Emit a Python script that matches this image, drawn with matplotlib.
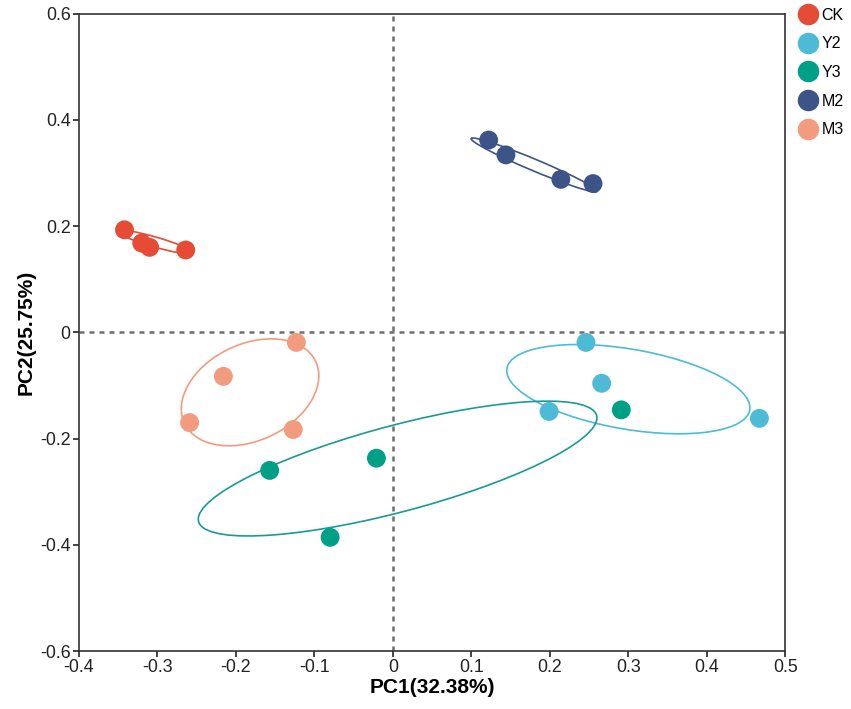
import matplotlib
matplotlib.use("Agg")
import matplotlib.pyplot as plt
from matplotlib.patches import Ellipse
from matplotlib.lines import Line2D

plt.rcParams["font.family"] = ["Liberation Sans", "DejaVu Sans"]

groups = ["CK", "Y2", "Y3", "M2", "M3"]
colors = ["#E64B35", "#4DBBD5", "#00A087", "#3C5488", "#F39B7F"]
ell_colors = ["#E64B35", "#4DBBD5", "#1A9A95", "#3C5488", "#F39B7F"]

# PC1 / PC2 scores per group
pc1_ck = [-0.342, -0.320, -0.310, -0.264]
pc2_ck = [0.193, 0.168, 0.160, 0.155]
pc1_y2 = [0.246, 0.266, 0.199, 0.467]
pc2_y2 = [-0.019, -0.096, -0.149, -0.162]
pc1_y3 = [0.291, -0.021, -0.157, -0.080]
pc2_y3 = [-0.146, -0.237, -0.260, -0.386]
pc1_m2 = [0.122, 0.144, 0.214, 0.255]
pc2_m2 = [0.362, 0.334, 0.288, 0.280]
pc1_m3 = [-0.123, -0.216, -0.259, -0.127]
pc2_m3 = [-0.019, -0.083, -0.170, -0.183]

# confidence ellipses: centre x, centre y, width, height, angle (deg)
ell_cx = [-0.303, 0.300, 0.006, 0.180, -0.182]
ell_cy = [0.170, -0.107, -0.2565, 0.315, -0.113]
ell_w = [0.106, 0.320, 0.546, 0.189, 0.218]
ell_h = [0.018, 0.148, 0.156, 0.020, 0.154]
ell_ang = [-23.4, -16.3, 22.5, -32.0, 57.2]

pc1 = [pc1_ck, pc1_y2, pc1_y3, pc1_m2, pc1_m3]
pc2 = [pc2_ck, pc2_y2, pc2_y3, pc2_m2, pc2_m3]

fig = plt.figure(figsize=(8.51, 7.09), dpi=100)
ax = fig.add_axes([0.0928, 0.0818, 0.830, 0.899])

ax.axvline(0, color="#6E6E6E", ls=(0, (2, 2)), lw=1.8, zorder=1)
ax.axhline(0, color="#6E6E6E", ls=(0, (2, 2)), lw=1.8, zorder=1)

for i in range(len(groups)):
    e = Ellipse((ell_cx[i], ell_cy[i]), ell_w[i], ell_h[i], angle=ell_ang[i],
                fill=False, edgecolor=ell_colors[i], lw=1.2, zorder=2)
    ax.add_patch(e)
for i in range(len(groups)):
    ax.scatter(pc1[i], pc2[i], s=185, color=colors[i], edgecolor="none", zorder=3)

ax.set_xlim(-0.4, 0.5)
ax.set_ylim(-0.6, 0.6)
ax.set_xticks([-0.4, -0.3, -0.2, -0.1, 0, 0.1, 0.2, 0.3, 0.4, 0.5])
ax.set_xticklabels(["-0.4", "-0.3", "-0.2", "-0.1", "0", "0.1", "0.2", "0.3", "0.4", "0.5"])
ax.set_yticks([-0.6, -0.4, -0.2, 0, 0.2, 0.4, 0.6])
ax.set_yticklabels(["-0.6", "-0.4", "-0.2", "0", "0.2", "0.4", "0.6"])
ax.tick_params(direction="out", length=4, width=1.2, labelsize=12.8, colors="#222222", pad=2)
for sp in ax.spines.values():
    sp.set_linewidth(1.2)
    sp.set_color("#333333")

ax.set_xlabel("PC1(32.38%)", fontsize=15, fontweight="bold", labelpad=1)
ax.set_ylabel("PC2(25.75%)", fontsize=15, fontweight="bold", labelpad=3)

handles = [Line2D([0], [0], marker="o", ls="none", markersize=15.5,
                  markerfacecolor=c, markeredgecolor="none") for c in colors]
fig.legend(handles, groups, loc="upper left", bbox_to_anchor=(0.928, 0.998),
           frameon=False, fontsize=11.5, handletextpad=0.1, labelspacing=0.85,
           borderaxespad=0, handlelength=1.5)

fig.savefig("out.png", dpi=100)
